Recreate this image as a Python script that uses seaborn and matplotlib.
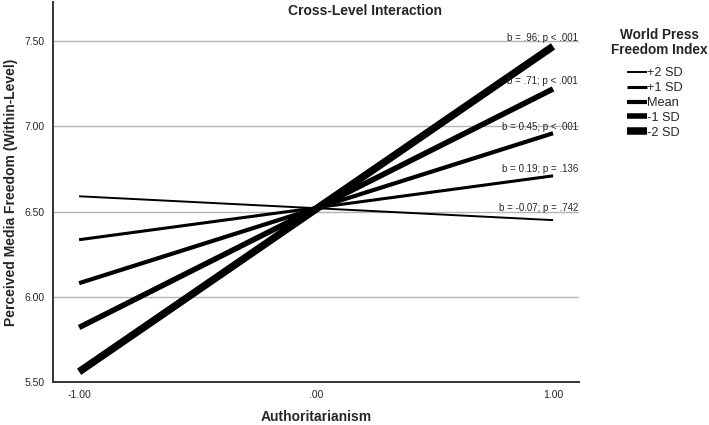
import pandas as pd
import seaborn as sns
import matplotlib.pyplot as plt

# Simple slopes (Authoritarianism -1 .. +1)
authoritarianism = [-1.0, 1.0]
levels = ["+2 SD", "+1 SD", "Mean", "-1 SD", "-2 SD"]
freedom_low = [6.59, 6.335, 6.08, 5.82, 5.56]
freedom_high = [6.45, 6.71, 6.96, 7.22, 7.47]
slope_labels = ["b = -0.07; p = .742", "b = 0.19; p = .136", "b = 0.45; p < .001",
                "b = .71; p < .001", "b = .96; p < .001"]
label_y = [6.52, 6.75, 6.995, 7.265, 7.52]
widths = [1.4, 2.2, 3.0, 4.0, 5.4]

rows = []
for lev, lo, hi in zip(levels, freedom_low, freedom_high):
    rows.append({"level": lev, "x": authoritarianism[0], "y": lo})
    rows.append({"level": lev, "x": authoritarianism[1], "y": hi})
df = pd.DataFrame(rows)

sns.set_style("white")
plt.rcParams["font.family"] = ["Liberation Sans", "DejaVu Sans"]

fig = plt.figure(figsize=(7.09, 4.25), dpi=100)
ax = fig.add_axes([0.0748, 0.1012, 0.742, 0.894])

for y in [6.0, 6.5, 7.0, 7.5]:
    ax.axhline(y, color="#b4b4b4", lw=1.0, zorder=0)

for lev, w in zip(levels, widths):
    sns.lineplot(data=df[df["level"] == lev], x="x", y="y", color="black",
                 linewidth=w, label=lev, ax=ax, solid_capstyle="butt")

for txt, y in zip(slope_labels, label_y):
    ax.text(1.105, y, txt, ha="right", va="center", fontsize=7)

ax.set_xlim(-1.11, 1.11)
ax.set_ylim(5.5, 7.73)
ax.set_xticks([-1, 0, 1])
ax.set_xticklabels(["-1.00", ".00", "1.00"])
ax.set_yticks([5.5, 6.0, 6.5, 7.0, 7.5])
ax.set_yticklabels(["5.50", "6.00", "6.50", "7.00", "7.50"])
ax.tick_params(length=0, labelsize=7.5, pad=6)
for s in ["top", "right"]:
    ax.spines[s].set_visible(False)
for s in ["left", "bottom"]:
    ax.spines[s].set_color("#333333")
    ax.spines[s].set_linewidth(1.4)

ax.set_xlabel("")
ax.set_ylabel("")
fig.text(316 / 709, 1 - 417 / 425, "Authoritarianism", ha="center", va="center",
         fontsize=10, fontweight="bold")
fig.text(11 / 709, 1 - 192 / 425, "Perceived Media Freedom (Within-Level)",
         ha="center", va="center", rotation=90, fontsize=10, fontweight="bold")
fig.text(365 / 709, 1 - 11 / 425, "Cross-Level Interaction", ha="center",
         va="center", fontsize=10, fontweight="bold")

# legend title drawn separately so the gap matches the reference
fig.text(659 / 709, 1 - 42.5 / 425, "World Press\nFreedom Index", ha="center",
         va="center", fontsize=9.8, fontweight="bold", linespacing=1.1)
handles, labels = ax.get_legend_handles_labels()
ax.get_legend().remove()
fig.legend(handles, labels, loc="upper left",
           bbox_to_anchor=(615 / 709, 1 - 56 / 425), frameon=False,
           fontsize=9.2, handlelength=1.6, handletextpad=0.0,
           labelspacing=0.22, borderpad=0.4)

fig.savefig("out.png", dpi=100)
